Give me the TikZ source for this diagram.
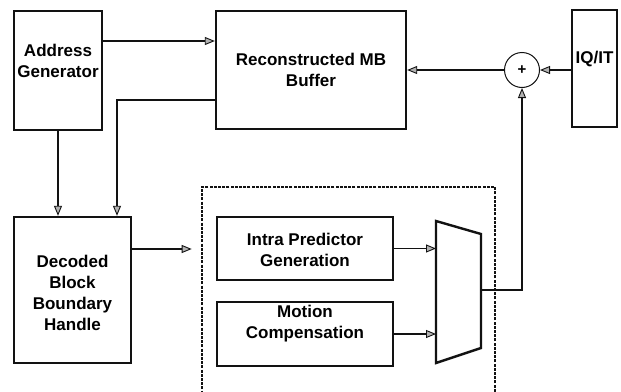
\documentclass[tikz,border=0pt]{standalone}
\usepackage{fontspec}
\setmainfont{Liberation Sans}
\usetikzlibrary{arrows.meta}

\definecolor{linecolor}{rgb}{0.070000, 0.070000, 0.070000}
\definecolor{tipcolor}{rgb}{0.700000, 0.700000, 0.700000}

\tikzset{
  blk/.style={draw=linecolor, line width=2.4pt, inner sep=0pt},
  lbl/.style={align=center, inner sep=0pt, font=\fontsize{17}{21}\selectfont\bfseries},
  arr/.style={draw=linecolor, line width=1.6pt,
    -{Triangle[length=10pt, width=8pt, fill=tipcolor, line width=0.9pt]}},
  grpbox/.style={draw=linecolor, line width=2.6pt, dash pattern=on 3pt off 1.2pt, inner sep=0pt}
}

\begin{document}
\begin{tikzpicture}[x=1pt, y=-1pt]
\useasboundingbox (0,0) rectangle (621,391);

% upper row
\node[blk, minimum width=88pt, minimum height=119pt] (addr) at (58,70.5) {};
\node[lbl] (addrtxt) at (58,61) {Address\\Generator};
\node[blk, minimum width=190pt, minimum height=118pt] (buf) at (311,70) {};
\node[lbl] (buftxt) at (311,70) {Reconstructed MB\\Buffer};
\node[blk, minimum width=45pt, minimum height=117pt] (iqit) at (594.5,68.5) {};
\node[lbl] (iqittxt) at (594.5,59) {IQ/IT};
\node[draw=linecolor, line width=1pt, circle, minimum size=35pt, inner sep=0pt,
  font=\fontsize{15}{15}\selectfont\bfseries] (sum) at (522,70) {+};

% lower row
\node[blk, minimum width=117pt, minimum height=146pt] (dec) at (72.5,290) {};
\node[lbl] (dectxt) at (72.5,293) {Decoded\\Block\\Boundary\\Handle};
\node[grpbox, minimum width=293pt, minimum height=210pt] (grp) at (348.5,292) {};
\node[blk, minimum width=176pt, minimum height=63pt] (intra) at (305,248.5) {};
\node[lbl] (intratxt) at (305,250) {Intra Predictor\\Generation};
\node[blk, minimum width=176pt, minimum height=64pt] (mc) at (305,334) {};
\node[lbl] (mctxt) at (305,324) {Motion\\Compensation};

% selector
\coordinate (muxtl) at (436,221);
\coordinate (muxtr) at (481,234);
\coordinate (muxbr) at (481,348);
\coordinate (muxbl) at (436,363);
\coordinate (muxout) at (481,290);
\draw[linecolor, line width=2.4pt, line join=miter] (muxtl) -- (muxtr) -- (muxbr) -- (muxbl) -- cycle;

% connections
\draw[arr] ([yshift=29.5pt]addr.east) -- ([yshift=29.5pt]addr.east -| buf.west);
\draw[arr] ([yshift=-30pt]buf.west) -| ([xshift=44.5pt]dec.north);
\draw[arr] (addr.south) -- (addr.south |- dec.north);
\draw[arr, shorten >=9pt] ([yshift=41pt]dec.east) -- ([yshift=41pt]dec.east -| grp.west);
\draw[arr] (intra.east) -- (intra.east -| muxtl);
\draw[arr] (mc.east) -- (mc.east -| muxtl);
\draw[arr] (muxout) -| (sum.south);
\draw[arr] (iqit.west |- sum.east) -- (sum.east);
\draw[arr] (sum.west) -- (sum.west -| buf.east);
\end{tikzpicture}
\end{document}
